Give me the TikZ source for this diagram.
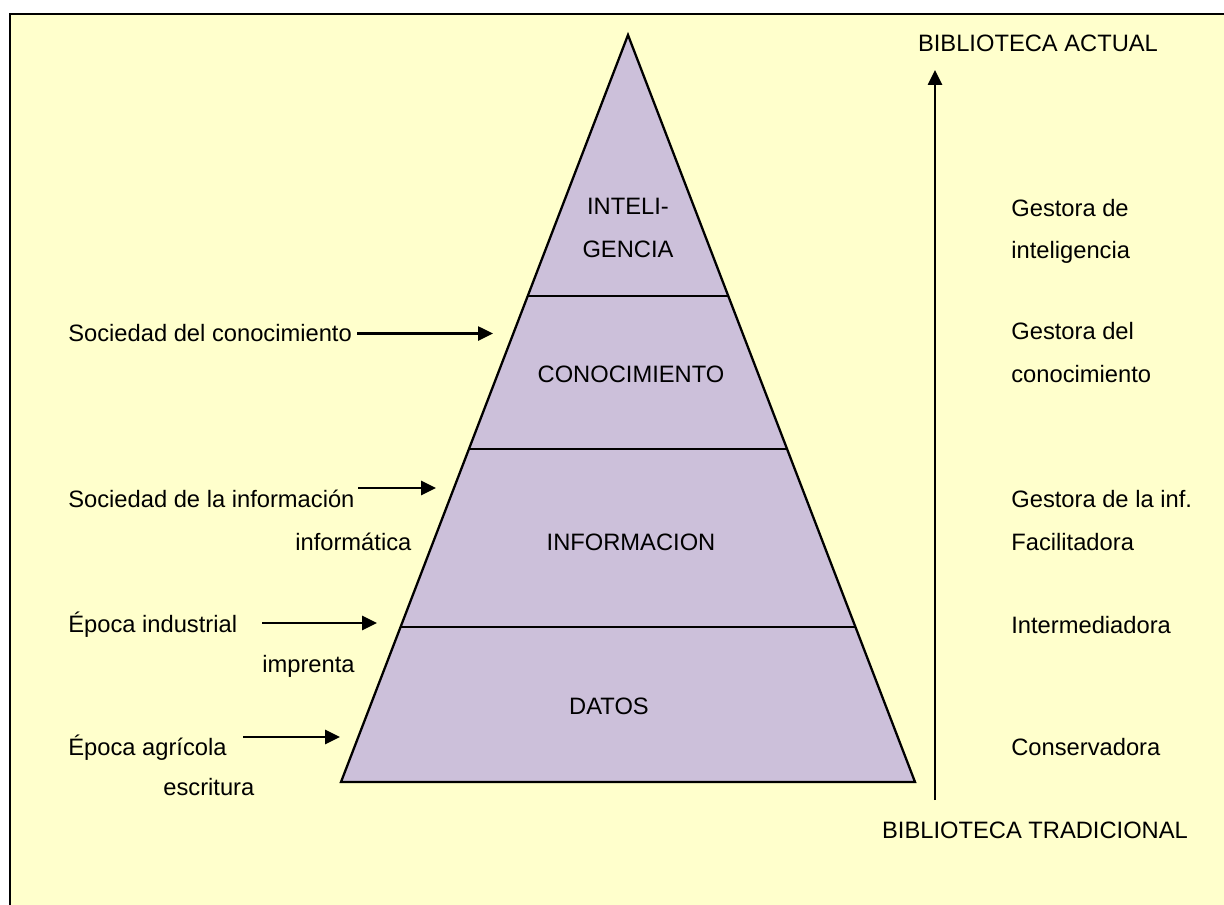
\documentclass[tikz,border=0pt]{standalone}
\usepackage{fontspec}
\setmainfont{Liberation Sans}
\usetikzlibrary{calc,arrows.meta}
\definecolor{fondo}{HTML}{FFFFCC}
\definecolor{lila}{HTML}{CCC0DA}
\tikzset{
  txt/.style={anchor=base west, inner sep=0pt, font=\fontsize{13.5}{16}\selectfont},
  ctxt/.style={txt, anchor=base},
  flecha/.style={line width=1.3pt, -{Triangle[length=8.5pt,width=8pt]}}
}

\begin{document}
\begin{tikzpicture}[x={(0.02cm,0)}, y={(0,-0.02cm)}]
\useasboundingbox (0,0) rectangle (1224,905);
\clip (0,0) rectangle (1224,905);
\fill [white] (0,0) rectangle (1224,905);
\draw [line width=1.4pt, fill=fondo] (10,14) rectangle (1250,930);
% piramide
\coordinate (cima) at (628,35);
\coordinate (bi) at (341,782);
\coordinate (bd) at (915,782);
\filldraw [fill=lila, line width=1.3pt, line join=miter] (cima) -- (bi) -- (bd) -- cycle;
\draw [line width=1.3pt] ($(cima)!0.3494!(bi)$) -- ($(cima)!0.3494!(bd)$);
\draw [line width=1.3pt] ($(cima)!0.5542!(bi)$) -- ($(cima)!0.5542!(bd)$);
\draw [line width=1.3pt] ($(cima)!0.7925!(bi)$) -- ($(cima)!0.7925!(bd)$);
\node [ctxt] (intel1) at (628,215) {INTELI-};
\node [ctxt] (intel2) at (628,258) {GENCIA};
\node [ctxt] (conoc) at (631,383) {CONOCIMIENTO};
\node [ctxt] (inform) at (631,550) {INFORMACION};
\node [ctxt] (datos) at (609,714) {DATOS};
% lado izquierdo
\node [txt] (socc) at (68,342) {Sociedad del conocimiento};
\node [txt] (soci) at (68,507) {Sociedad de la información};
\node [txt] (informat) at (295,550) {informática};
\node [txt] (indus) at (68,632) {Época industrial};
\node [txt] (impr) at (262,672) {imprenta};
\node [txt] (agric) at (68,755) {Época agrícola};
\node [txt] (escr) at (163,795) {escritura};
\coordinate (f1) at (493,334);
\coordinate (f2a) at (358,488);
\coordinate (f2b) at (436,488);
\coordinate (f3a) at (262,623);
\coordinate (f3b) at (377,623);
\coordinate (f4a) at (243,737);
\coordinate (f4b) at (340,737);
\draw [flecha, shorten <=3pt] (socc.east) -- (socc.east -| f1);
\draw [flecha] (f2a) -- (f2b);
\draw [flecha] (f3a) -- (f3b);
\draw [flecha] (f4a) -- (f4b);
% lado derecho
\node [ctxt] (actual) at (1038,52) {BIBLIOTECA ACTUAL};
\node [ctxt] (tradic) at (1035,838) {BIBLIOTECA TRADICIONAL};
\coordinate (ej0) at (935,800);
\coordinate (ej1) at (935,70);
\draw [flecha] (ej0) -- (ej1);
\node [txt] (g1) at (1011,217) {Gestora de};
\node [txt] (g1b) at (1011,259) {inteligencia};
\node [txt] (g2) at (1011,340) {Gestora del};
\node [txt] (g2b) at (1011,383) {conocimiento};
\node [txt] (g3) at (1011,507) {Gestora de la inf.};
\node [txt] (g3b) at (1011,550) {Facilitadora};
\node [txt] (g4) at (1011,633) {Intermediadora};
\node [txt] (g5) at (1011,755) {Conservadora};
\end{tikzpicture}
\end{document}
